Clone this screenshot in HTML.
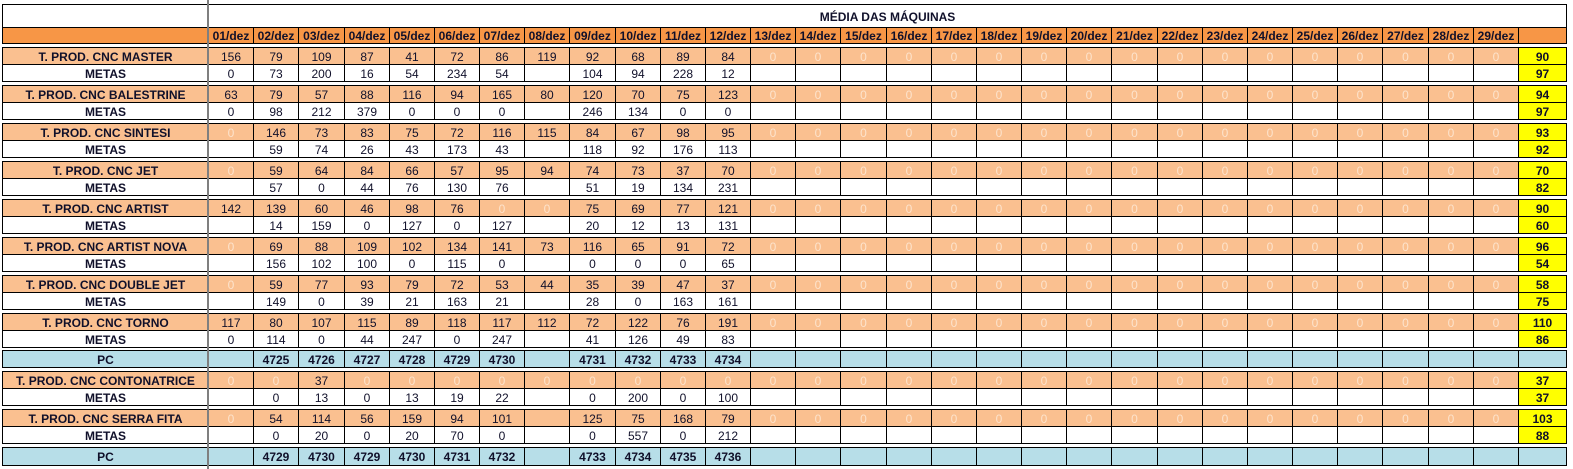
<!DOCTYPE html>
<html><head><meta charset="utf-8">
<style>
body{margin:0;width:1573px;height:469px;background:#fff;position:relative;overflow:hidden;font-family:"Liberation Sans",Arial,sans-serif;}
.c{position:absolute;box-sizing:border-box;border:1px solid #000;font-size:12px;text-align:center;color:#10102a;white-space:nowrap;overflow:hidden;}
.b{font-weight:bold;}
.o{background:#F79646;}
.lo{background:#FAC090;}
.bl{background:#B7DEE8;}
.y{background:#FFFF00;}
.f{color:#FDE3CC;}
</style></head><body>
<div id="grid"></div>
<script>
const days=[];for(let i=1;i<=29;i++)days.push(String(i).padStart(2,'0')+'/dez');
const Z='Z';
const masterProd=[156,79,109,87,41,72,86,119,92,68,89,84];
const masterMeta=[0,73,200,16,54,234,54,null,104,94,228,12];
const balProd=[63,79,57,88,116,94,165,80,120,70,75,123];
const balMeta=[0,98,212,379,0,0,0,null,246,134,0,0];
const sinProd=[Z,146,73,83,75,72,116,115,84,67,98,95];
const sinMeta=[null,59,74,26,43,173,43,null,118,92,176,113];
const jetProd=[Z,59,64,84,66,57,95,94,74,73,37,70];
const jetMeta=[null,57,0,44,76,130,76,null,51,19,134,231];
const artProd=[142,139,60,46,98,76,Z,Z,75,69,77,121];
const artMeta=[null,14,159,0,127,0,127,null,20,12,13,131];
const novaProd=[Z,69,88,109,102,134,141,73,116,65,91,72];
const novaMeta=[null,156,102,100,0,115,0,null,0,0,0,65];
const djProd=[Z,59,77,93,79,72,53,44,35,39,47,37];
const djMeta=[null,149,0,39,21,163,21,null,28,0,163,161];
const torProd=[117,80,107,115,89,118,117,112,72,122,76,191];
const torMeta=[0,114,0,44,247,0,247,null,41,126,49,83];
const pc1=[null,4725,4726,4727,4728,4729,4730,null,4731,4732,4733,4734];
const conProd=[Z,Z,37,Z,Z,Z,Z,Z,Z,Z,Z,Z];
const conMeta=[null,0,13,0,13,19,22,null,0,200,0,100];
const serProd=[Z,54,114,56,159,94,101,null,125,75,168,79];
const serMeta=[null,0,20,0,20,70,0,null,0,557,0,212];
const pc2=[null,4729,4730,4729,4730,4731,4732,null,4733,4734,4735,4736];

const rows=[
 ['T. PROD. CNC MASTER','p',masterProd,90,47],['METAS','m',masterMeta,97,64],
 ['T. PROD. CNC BALESTRINE','p',balProd,94,85],['METAS','m',balMeta,97,102],
 ['T. PROD. CNC SINTESI','p',sinProd,93,123],['METAS','m',sinMeta,92,140],
 ['T. PROD. CNC JET','p',jetProd,70,161],['METAS','m',jetMeta,82,178],
 ['T. PROD. CNC ARTIST','p',artProd,90,199],['METAS','m',artMeta,60,216],
 ['T. PROD. CNC ARTIST NOVA','p',novaProd,96,237],['METAS','m',novaMeta,54,254],
 ['T. PROD. CNC DOUBLE JET','p',djProd,58,275],['METAS','m',djMeta,75,292],
 ['T. PROD. CNC TORNO','p',torProd,110,313],['METAS','m',torMeta,86,330],
 ['PC','pc',pc1,null,350],
 ['T. PROD. CNC CONTONATRICE','p',conProd,37,371],['METAS','m',conMeta,37,388],
 ['T. PROD. CNC SERRA FITA','p',serProd,103,409],['METAS','m',serMeta,88,426],
 ['PC','pc',pc2,null,447]
];
const g=document.getElementById('grid');
const X0=208,CW=(1518-208)/29;
function cell(x,y,w,h,cls,txt){const d=document.createElement('div');d.className='c '+cls;d.style.left=x+'px';d.style.top=y+'px';d.style.width=(w+1)+'px';d.style.height=(h+1)+'px';d.style.lineHeight=(h+1)+'px';d.textContent=txt;g.appendChild(d);return d;}
let t=cell(2,4,206,23,'','');


t=cell(X0,4,1566-X0,23,'b','MÉDIA DAS MÁQUINAS');


t=cell(2,27,206,16,'o','');


days.forEach((d,i)=>{const e=cell(Math.round(X0+i*CW),27,Math.round(X0+(i+1)*CW)-Math.round(X0+i*CW),16,'o b',d);

});
t=cell(1518,27,48,16,'o','');


rows.forEach(r=>{
 const [lab,type,vals,avg,y]=r;const h=(type==='pc'&&y>440)?18:17;
 const bg=type==='p'?'lo':type==='pc'?'bl':'';
 const l=cell(2,y,206,h,bg+' b',lab);
 
 
 for(let i=0;i<29;i++){
  let v=i<12?vals[i]:(type==='p'?Z:null);
  let cls=bg+(type==='pc'?' b':'');let txt='';
  if(v===Z){cls+=' f';txt='0';}else if(v!==null&&v!==undefined)txt=String(v);
  const x1=Math.round(X0+i*CW),x2=Math.round(X0+(i+1)*CW);
  const e=cell(x1,y,x2-x1,h,cls,txt);
  
  
 }
 const a=cell(1518,y,48,h,(avg!==null?'y b':bg),avg!==null?String(avg):'');
 
 
});
const v=document.createElement('div');v.style.cssText='position:absolute;left:207px;top:0;width:2px;height:469px;background:#7f7f7f';


document.body.appendChild(v);
</script>
</body></html>
